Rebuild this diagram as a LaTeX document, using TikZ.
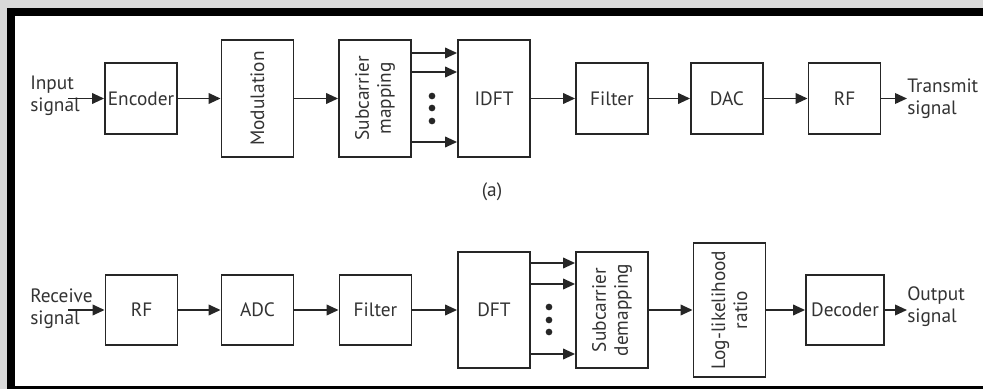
\documentclass[tikz,border=0pt]{standalone}
\usepackage{fontspec}
\setsansfont{PT Sans}
\usepackage{tikz}
\usetikzlibrary{arrows.meta}

\definecolor{pagegray}{HTML}{D9D9D9}
\definecolor{ink}{HTML}{333333}

\begin{document}
\begin{tikzpicture}[
  x=0.75pt,y=-0.75pt,
  font=\sffamily\fontsize{14.5}{16.5}\selectfont,
  blk/.style={draw=black!85,line width=1.4pt,minimum width=54pt,minimum height=53pt,inner sep=0pt,text=ink},
  tall/.style={blk,minimum height=88pt},
  rot/.style={rotate=90,align=center,inner sep=0pt,text=ink},
  io/.style={align=left,inner sep=0pt,text=ink},
  dot/.style={circle,fill=black!85,inner sep=0pt,minimum size=5pt},
  >={Triangle[length=9pt,width=8pt]},
  sig/.style={->,line width=1.2pt,black!85}
]
\useasboundingbox (0,0) rectangle (983,389);
% frame
\fill[pagegray] (0,0) rectangle (983,389);
\fill[white] (7,8) rectangle (983,389);
\fill[black] (7,8) rectangle (983,16);
\fill[black] (7,8) rectangle (15,389);
\fill[black] (7,386) rectangle (983,389);
% (a) transmitter
\node[blk] (enc) at (141,98.5)  {Encoder};
\node[tall] (mod) at (257.5,98.5) {};
\node[rot] (modtxt) at (mod) {Modulation};
\node[tall] (map) at (375,98.5) {};
\node[rot] (maptxt) at (map) {Subcarrier\\mapping};
\node[tall] (idft) at (494,98.5) {IDFT};
\node[blk] (filt) at (612,98.5) {Filter};
\node[blk] (dac) at (727,98.5) {DAC};
\node[blk] (rft) at (844.5,98.5) {RF};
\node[io,anchor=west] (insig) at (30,96) {Input\\signal};
\node[io,anchor=west] (txsig) at (907,98.5) {Transmit\\signal};
\coordinate (inp) at (68,98.5);
\draw[sig] (inp) -- (enc);
\draw[sig] (enc) -- (mod);
\draw[sig] (mod) -- (map);
\foreach \yy in {53,72,142}
  \draw[sig] (map.east |- 0,\yy) -- (idft.west |- 0,\yy);
\foreach \yy/\nm in {96/a,108/b,121/c}
  \node[dot] (td\nm) at (432,\yy) {};
\draw[sig] (idft) -- (filt);
\draw[sig] (filt) -- (dac);
\draw[sig] (dac) -- (rft);
\draw[sig] (rft.east) -- (txsig.west);
\node[text=ink] (capa) at (492,192) {(a)};
% receiver
\node[blk] (rfr) at (141.5,310) {RF};
\node[blk] (adc) at (257.5,310) {ADC};
\node[blk] (filr) at (375.5,310) {Filter};
\node[tall,minimum height=87pt] (dft) at (494,310) {DFT};
\node[tall,minimum height=87pt] (dmap) at (612,310) {};
\node[rot] (dmaptxt) at (dmap) {Subcarrier\\demapping};
\node[blk,minimum height=101pt] (llr) at (729.5,310) {};
\node[rot] (llrtxt) at (llr) {Log-likelihood\\ratio};
\node[blk,minimum width=58.5pt] (dec) at (845,310) {Decoder};
\node[io,anchor=west] (rxsig) at (30,309) {Receive\\signal};
\node[io,anchor=west] (outsig) at (907,307) {Output\\signal};
\coordinate (rxin) at (68,310);
\draw[sig] (rxin) -- (rfr);
\draw[sig] (rfr) -- (adc);
\draw[sig] (adc) -- (filr);
\draw[sig] (filr) -- (dft);
\foreach \yy in {263,284,354}
  \draw[sig] (dft.east |- 0,\yy) -- (dmap.west |- 0,\yy);
\foreach \yy/\nm in {307/a,320/b,332/c}
  \node[dot] (rd\nm) at (549,\yy) {};
\draw[sig] (dmap) -- (llr);
\draw[sig] (llr) -- (dec);
\draw[sig] (dec.east) -- (dec.east -| outsig.west);
\end{tikzpicture}
\end{document}
